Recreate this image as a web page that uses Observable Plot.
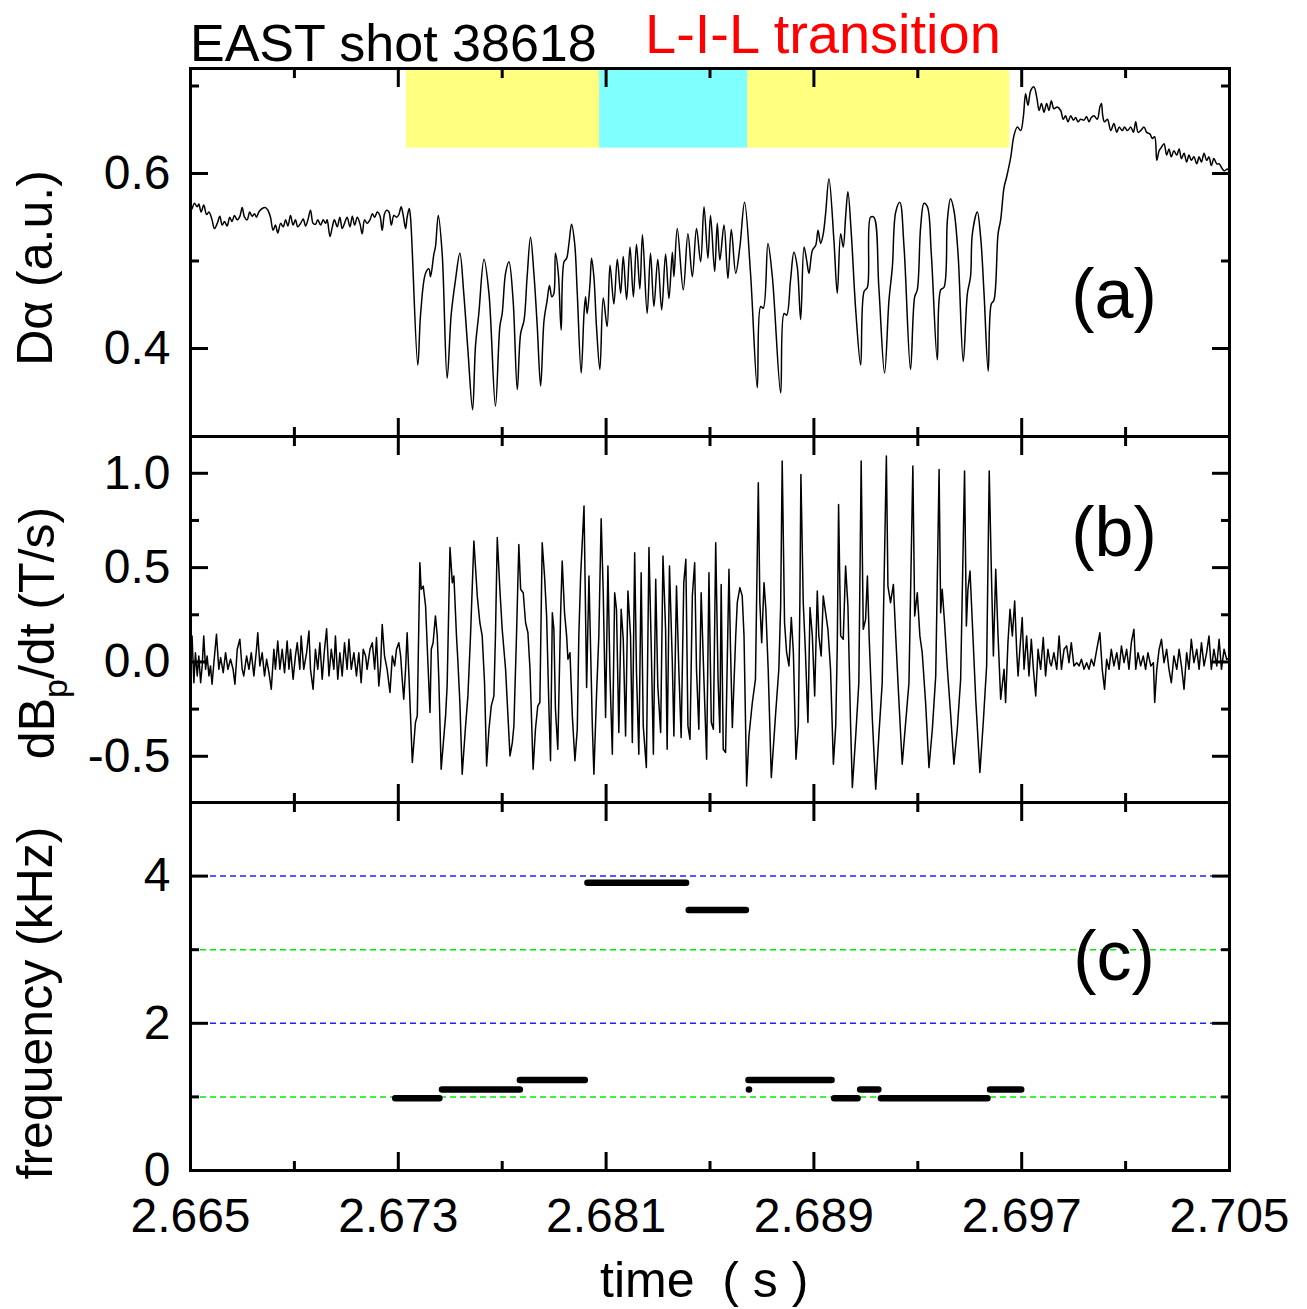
<!DOCTYPE html>
<html>
<head>
<meta charset="utf-8">
<script src="https://cdn.jsdelivr.net/npm/d3@7"></script>
<script src="https://cdn.jsdelivr.net/npm/@observablehq/plot@0.6"></script>
<style>
  html, body { margin: 0; padding: 0; background: #fff; }
  #wrap { position: relative; width: 1307px; height: 1309px; overflow: hidden; }
  #wrap > svg { position: absolute; left: 0; }
  .lbl { font-family: 'Liberation Sans', Arial, sans-serif; fill: #000; }
</style>
</head>
<body>
<div id="wrap"></div>
<script>
// ---------- data ----------
const T0 = 2.665; // s ; times below are in ms after T0

// (a) D-alpha signal
const daTimeMs = [0,0.06,0.15,0.26,0.32,0.41,0.51,0.62,0.71,0.83,0.92,1.03,1.13,1.22,1.31,1.41,1.51,1.60,1.69,1.80,1.90,1.99,2.08,2.18,2.28,2.37,2.46,2.54,2.63,2.76,2.89,2.98,3.08,3.18,3.27,3.36,3.47,3.57,3.66,3.75,3.85,3.95,4.04,4.13,4.24,4.34,4.43,4.52,4.62,4.72,4.81,4.90,5.01,5.11,5.20,5.26,5.37,5.46,5.54,5.65,5.75,5.84,5.93,6.03,6.14,6.23,6.32,6.42,6.52,6.61,6.70,6.80,6.91,7.00,7.09,7.19,7.29,7.38,7.47,7.55,7.64,7.73,7.83,7.93,8.02,8.11,8.19,8.28,8.34,8.42,8.47,
 8.75,8.86,9.05,9.18,9.24,9.37,9.43,9.54,9.69,9.88,10.04,10.20,10.37,10.52,10.68,10.86,10.97,11.10,11.30,11.49,11.74,11.91,12.00,12.13,12.26,12.42,12.58,12.71,12.84,12.96,13.09,13.22,13.35,13.48,13.61,13.73,13.82,13.91,13.99,14.05,14.16,14.27,14.38,14.48,14.57,14.67,14.79,14.89,15.04,15.15,15.21,15.27,15.38,15.44,15.53,15.63,15.76,
 15.89,16.04,16.15,16.30,16.43,16.56,16.66,16.79,16.92,17.05,17.17,17.30,17.40,17.58,17.71,17.84,17.99,18.14,18.29,18.42,18.55,18.61,18.74,18.97,19.15,19.32,19.48,19.64,19.77,19.92,20.02,20.18,20.28,20.38,20.54,20.69,20.82,20.99,21.15,21.33,21.56,21.82,21.95,22.05,22.23,22.40,22.72,22.85,22.95,23.10,23.23,23.36,23.49,23.62,23.72,23.81,23.94,24.07,24.16,24.26,24.36,24.45,24.58,24.77,24.90,25.03,25.13,25.22,25.31,25.44,25.61,25.80,25.93,26.06,26.18,26.31,26.50,26.72,26.89,27.02,27.15,27.31,27.47,27.72,27.88,27.98,28.11,28.24,28.37,28.52,28.75,28.88,29.01,29.14,29.26,29.39,29.55,29.75,29.91,30.03,30.10,30.29,30.42,30.55,30.71,30.83,30.93,31.09,31.19,
 31.32,31.42,31.58,31.70,31.83,31.96,32.06,32.15,32.24,32.35,32.47,32.58,32.67,32.76,32.86,32.96,33.05,33.14,33.24,33.37,33.50,33.60,33.69,33.78,33.89,33.99,34.08,34.17,34.27,34.40,34.50,34.59,34.68,34.78,34.91,35.01,35.07,35.12,35.19,35.30,35.43,35.55,35.66,35.75,35.87,35.96,36.07,36.20,36.30,36.39,36.48,36.58,36.71,36.81,36.94,37.03,37.12,37.20,37.29,37.38,37.48,37.58,37.67,37.76,37.86,37.97,38.06,38.15,38.25,38.35,38.44,38.53,38.63,38.74,38.83,38.92,39.02,39.12,39.21,39.30,39.40,39.51,39.60,39.69,39.79,39.92,40.0];
const daValue = [0.558,0.560,0.566,0.562,0.565,0.556,0.564,0.553,0.556,0.547,0.537,0.543,0.551,0.541,0.545,0.540,0.550,0.545,0.552,0.547,0.551,0.561,0.550,0.547,0.556,0.551,0.554,0.550,0.556,0.560,0.561,0.558,0.550,0.535,0.541,0.532,0.543,0.539,0.547,0.540,0.552,0.541,0.547,0.539,0.543,0.548,0.540,0.547,0.558,0.543,0.542,0.547,0.541,0.547,0.543,0.547,0.528,0.539,0.547,0.539,0.550,0.537,0.543,0.550,0.539,0.551,0.541,0.550,0.543,0.531,0.547,0.543,0.547,0.554,0.550,0.556,0.552,0.535,0.554,0.558,0.556,0.541,0.552,0.550,0.553,0.562,0.552,0.537,0.550,0.560,0.550,
 0.381,0.440,0.486,0.491,0.482,0.508,0.516,0.552,0.508,0.366,0.440,0.478,0.509,0.463,0.398,0.330,0.402,0.440,0.502,0.463,0.334,0.425,0.440,0.486,0.499,0.455,0.353,0.417,0.432,0.482,0.527,0.486,0.425,0.357,0.432,0.455,0.472,0.459,0.463,0.509,0.486,0.421,0.499,0.503,0.520,0.542,0.520,0.463,0.372,0.440,0.459,0.440,0.474,0.503,0.482,0.425,0.376,
 0.458,0.425,0.495,0.451,0.502,0.463,0.505,0.456,0.516,0.459,0.519,0.468,0.530,0.440,0.509,0.448,0.502,0.444,0.508,0.457,0.510,0.482,0.537,0.467,0.531,0.482,0.537,0.499,0.562,0.503,0.552,0.488,0.543,0.501,0.541,0.480,0.536,0.486,0.516,0.567,0.486,0.355,0.448,0.446,0.520,0.482,0.349,0.440,0.438,0.478,0.510,0.493,0.433,0.516,0.501,0.486,0.512,0.518,0.535,0.520,0.531,0.554,0.594,0.524,0.463,0.531,0.516,0.550,0.579,0.531,0.444,0.381,0.465,0.470,0.550,0.550,0.470,0.372,0.455,0.493,0.556,0.567,0.516,0.376,0.459,0.467,0.539,0.566,0.562,0.508,0.387,0.467,0.470,0.547,0.571,0.558,0.508,0.385,0.463,0.482,0.531,0.556,0.527,0.463,0.374,0.451,0.455,0.531,0.547,
 0.584,0.596,0.619,0.643,0.653,0.649,0.664,0.691,0.678,0.695,0.699,0.687,0.672,0.680,0.670,0.680,0.672,0.683,0.674,0.676,0.672,0.662,0.666,0.659,0.666,0.661,0.664,0.659,0.662,0.661,0.665,0.659,0.664,0.666,0.662,0.676,0.680,0.666,0.659,0.662,0.649,0.657,0.647,0.653,0.649,0.653,0.649,0.653,0.647,0.659,0.647,0.649,0.653,0.647,0.645,0.640,0.642,0.615,0.626,0.630,0.634,0.621,0.628,0.619,0.626,0.621,0.628,0.617,0.623,0.613,0.621,0.615,0.619,0.611,0.619,0.613,0.623,0.615,0.619,0.609,0.617,0.611,0.611,0.607,0.603,0.605,0.601];

// (b) dBp/dt signal
const bpTimeMs = [0,0.06,0.13,0.19,0.26,0.32,0.39,0.45,0.51,0.58,0.64,0.71,0.77,0.83,0.90,1.00,1.09,1.16,1.26,1.35,1.44,1.54,1.64,1.71,1.80,1.90,1.99,2.05,2.16,2.25,2.34,2.44,2.54,2.59,2.67,2.76,2.85,2.93,3.02,3.11,3.21,3.27,3.36,3.44,3.53,3.62,3.72,3.79,3.85,3.95,4.04,4.11,4.21,4.26,4.36,4.47,4.56,4.62,4.72,4.81,4.90,4.98,5.07,5.16,5.24,5.33,5.42,5.52,5.58,5.67,5.75,5.84,5.93,6.03,6.10,6.19,6.29,6.39,6.48,6.57,6.65,6.74,6.80,6.91,7.00,7.09,7.16,7.25,7.32,7.38,7.47,7.57,7.68,7.77,7.86,7.93,8.02,8.09,8.16,8.21,8.28,8.34,8.41,
 8.54,8.66,8.73,8.83,8.88,8.96,9.05,9.14,9.22,9.27,9.34,9.43,9.50,9.56,9.65,9.82,9.88,9.99,10.08,10.14,10.24,10.29,10.37,10.46,10.59,10.68,10.78,10.91,11.04,11.14,11.23,11.32,11.40,11.49,11.58,11.68,11.74,11.81,11.91,12.00,12.13,12.30,12.39,12.45,12.55,12.64,12.71,12.81,12.90,12.99,13.07,13.19,13.28,13.37,13.45,13.54,13.63,13.71,13.80,13.86,13.93,13.99,14.05,14.14,14.25,14.31,14.40,14.48,14.53,14.61,14.70,14.80,14.89,14.95,15.02,15.15,15.25,15.34,15.47,15.53,15.63,15.72,15.81,
 15.89,15.98,16.07,16.15,16.24,16.33,16.40,16.49,16.58,16.66,16.75,16.84,16.94,17.01,17.10,17.17,17.26,17.35,17.43,17.55,17.65,17.74,17.82,17.91,17.99,18.10,18.19,18.29,18.35,18.44,18.55,18.61,18.71,18.80,18.89,18.99,19.07,19.15,19.23,19.32,19.41,19.48,19.57,19.66,19.77,19.87,19.96,20.05,20.13,20.22,20.31,20.38,20.43,20.51,20.60,20.73,20.79,20.86,20.99,21.05,21.15,21.24,21.31,21.41,21.50,21.63,21.75,21.86,21.92,21.99,22.08,22.15,22.24,22.36,22.53,22.65,22.72,22.78,22.87,22.95,23.04,23.13,23.21,23.31,23.40,23.46,23.50,23.59,23.67,23.77,23.85,23.94,24.03,24.13,24.19,24.28,24.36,24.45,24.54,24.64,24.75,24.84,24.90,24.95,25.03,25.13,25.22,25.31,25.41,25.48,25.61,25.73,25.82,25.90,25.99,26.06,26.13,26.25,26.38,26.50,26.63,26.79,26.85,26.95,27.06,27.15,27.25,27.40,27.49,27.66,27.81,27.88,27.98,28.08,28.17,28.30,28.43,28.56,28.69,28.82,28.88,28.94,29.03,29.14,29.26,29.39,29.52,29.65,29.80,29.87,29.93,30.01,30.10,30.23,30.39,30.52,30.65,30.75,30.83,30.91,31.00,31.09,31.19,31.32,31.38,31.47,31.55,31.64,31.73,31.81,31.86,31.93,32.02,32.09,32.19,32.28,32.37,32.45,32.54,32.63,32.73,32.83,32.92,33.01,33.09,
 33.14,33.24,33.35,33.44,33.53,33.63,33.73,33.82,33.91,34.01,34.12,34.21,34.30,34.40,34.50,34.59,34.68,34.78,34.89,35.01,35.10,35.19,35.27,35.36,35.45,35.55,35.66,35.75,35.84,35.94,36.04,36.13,36.22,36.32,36.39,36.48,36.58,36.68,36.77,36.86,36.97,37.07,37.12,37.20,37.29,37.38,37.48,37.58,37.67,37.76,37.86,37.97,38.06,38.15,38.25,38.35,38.44,38.53,38.63,38.74,38.83,38.92,39.02,39.12,39.21,39.30,39.40,39.51,39.60,39.69,39.79,39.89,40.0];
const bpValue = [0.03,0.138,-0.110,0.049,-0.074,0.032,-0.110,-0.021,0.138,-0.039,0.032,-0.074,-0.021,-0.118,-0.004,0.147,-0.039,0.023,-0.057,0.049,-0.039,0.014,-0.039,-0.118,0.067,0.120,-0.039,-0.074,0.032,-0.039,0.049,-0.074,0.067,0.155,-0.021,0.049,-0.074,0.014,-0.057,-0.145,0.067,-0.039,0.111,-0.039,0.067,-0.057,0.111,-0.039,0.067,-0.092,0.032,0.102,-0.039,0.138,-0.039,0.049,0.164,-0.039,-0.145,0.067,-0.039,0.102,-0.092,0.067,0.176,-0.074,0.067,-0.039,0.138,-0.092,0.049,-0.074,0.102,-0.039,0.120,-0.039,0.049,-0.074,0.049,-0.110,0.067,0.032,-0.039,0.067,0.102,-0.039,0.129,-0.127,-0.021,0.199,0.032,-0.039,-0.162,0.032,-0.021,0.067,0.102,0.032,-0.110,-0.198,-0.039,0.155,-0.074,
 -0.533,-0.321,-0.286,0.526,0.385,0.402,0.297,-0.004,-0.268,0.067,0.102,0.244,0.138,-0.092,-0.569,-0.286,-0.127,0.606,0.420,0.456,0.138,0.014,-0.215,-0.595,-0.339,-0.180,0.138,0.641,0.350,0.208,0.138,-0.110,-0.551,-0.357,-0.233,-0.180,0.138,0.659,0.385,0.173,-0.039,-0.498,-0.427,-0.339,0.138,0.623,0.385,0.367,0.208,0.155,-0.039,-0.569,-0.357,-0.233,-0.215,0.632,0.456,0.244,-0.251,-0.524,0.261,0.173,-0.251,-0.463,0.261,0.535,0.261,0.138,0.014,0.049,-0.286,-0.524,-0.357,0.138,0.456,0.826,-0.136,0.456,-0.339,-0.595,-0.180,0.138,0.759,
 0.367,-0.295,0.508,-0.074,-0.489,0.367,0.279,-0.374,0.279,0.120,-0.392,0.376,0.138,-0.427,0.579,-0.057,-0.489,0.473,-0.339,-0.560,0.606,0.067,-0.489,0.438,-0.127,-0.374,0.561,0.173,-0.463,0.508,-0.004,-0.392,0.402,-0.039,-0.401,0.420,0.544,-0.339,-0.410,0.350,0.526,-0.039,-0.357,0.367,-0.110,-0.516,0.473,-0.321,-0.357,0.632,-0.092,-0.374,0.411,-0.463,-0.480,0.491,0.067,-0.348,0.138,0.314,0.394,0.350,0.138,-0.657,-0.392,-0.215,-0.092,0.950,0.314,0.102,0.420,0.279,-0.039,-0.613,-0.268,-0.039,0.297,1.065,0.208,0.049,-0.021,0.235,0.049,-0.516,-0.339,0.314,0.994,0.314,0.067,-0.321,0.288,0.138,-0.180,0.376,0.138,0.032,0.350,0.261,0.173,-0.039,-0.542,-0.339,0.085,0.835,0.138,0.120,0.508,0.297,-0.321,-0.666,-0.392,-0.110,1.065,0.173,0.226,0.456,0.120,-0.304,-0.675,-0.392,-0.110,1.091,0.402,0.314,0.411,0.138,-0.145,-0.542,-0.392,-0.110,1.038,0.244,0.367,0.138,0.049,-0.215,-0.560,-0.357,-0.074,1.020,0.261,0.385,0.208,-0.039,-0.268,-0.542,-0.357,-0.092,1.012,0.191,0.385,0.482,0.208,-0.198,-0.586,-0.321,-0.021,1.012,0.491,0.032,0.491,0.138,-0.198,-0.039,-0.215,0.102,0.279,0.138,0.323,0.049,-0.074,0.067,0.235,-0.039,0.138,-0.074,0.120,-0.039,-0.180,0.067,-0.039,0.129,-0.074,0.067,-0.004,
 -0.021,0.049,-0.039,0.138,-0.039,0.067,0.085,-0.004,0.102,-0.021,-0.004,-0.021,0.014,-0.039,-0.004,-0.039,0.014,-0.021,0.067,0.155,-0.039,-0.145,0.014,-0.039,0.067,-0.021,0.049,-0.039,0.085,-0.004,0.067,-0.039,0.102,0.173,-0.039,0.049,-0.021,0.032,-0.039,0.049,-0.021,-0.004,-0.215,-0.039,0.067,0.120,-0.004,0.067,-0.039,-0.110,0.032,-0.039,0.067,-0.021,-0.145,0.049,-0.039,0.120,-0.004,0.067,-0.039,0.102,-0.021,0.049,0.138,-0.039,0.067,-0.021,0.120,-0.039,0.067,0.014,0.02];

// (a) phase bars (L / I / L shading)
const phaseStart = [2.67332, 2.68075, 2.68645];
const phaseEnd   = [2.68075, 2.68645, 2.69654];
const phaseColor = ["#ffff80", "#80ffff", "#ffff80"];
const phaseBottom = 0.629;

// (c) frequency segments
const segStart = [2.6729, 2.6747, 2.6777, 2.6803, 2.6842, 2.6865, 2.6898, 2.6908, 2.6916, 2.6958];
const segEnd   = [2.6746, 2.6777, 2.6802, 2.6841, 2.6864, 2.6897, 2.6907, 2.6915, 2.6957, 2.6970];
const segFreq  = [0.98, 1.10, 1.23, 3.91, 3.54, 1.23, 0.98, 1.10, 0.98, 1.10];
const dotTime = [2.6865];
const dotFreq = [1.10];
const blueLevels = [2, 4];
const greenLevels = [1, 3];

// ticks
const xMajor = [2.665, 2.673, 2.681, 2.689, 2.697, 2.705];
const xMinor = [2.669, 2.677, 2.685, 2.693, 2.701];
const aMajor = [0.4, 0.6], aMinor = [0.5, 0.7];
const bMajor = [-0.5, 0.0, 0.5, 1.0], bMinor = [-0.25, 0.25, 0.75];
const cMajor = [0, 2, 4], cMinor = [1, 3];

// ---------- build ----------
const daData = daTimeMs.map((t, i) => ({t: T0 + t / 1000, v: daValue[i]}));
const bpData = bpTimeMs.map((t, i) => ({t: T0 + t / 1000, v: bpValue[i]}));
const phases = phaseStart.map((s, i) => ({s, e: phaseEnd[i], c: phaseColor[i]}));
const segs = segStart.map((s, i) => ({s, e: segEnd[i], f: segFreq[i]}));
const dots = dotTime.map((t, i) => ({t, f: dotFreq[i]}));

const FONT = "'Liberation Sans', Arial, sans-serif";
const base = {
  width: 1307, marginLeft: 190, marginRight: 78,
  x: {domain: [2.665, 2.705]},
  color: {type: "identity"},
  style: {fontFamily: FONT, fontSize: "48px", background: "transparent", overflow: "visible", color: "black"}
};

function tickMarks(xMaj, xMin, yMaj, yMin) {
  const blank = () => "";
  const o = (anchor, size) => ({anchor, tickSize: size, tickFormat: blank, strokeWidth: 3, label: null});
  return [
    Plot.axisX(xMaj, o("bottom", -18)), Plot.axisX(xMin, o("bottom", -9)),
    Plot.axisX(xMaj, o("top", -18)), Plot.axisX(xMin, o("top", -9)),
    Plot.axisY(yMaj, o("left", -18)), Plot.axisY(yMin, o("left", -9)),
    Plot.axisY(yMaj, o("right", -18)), Plot.axisY(yMin, o("right", -9))
  ];
}
const yLabels = (vals, fmt) => Plot.axisY(vals, {anchor: "left", tickSize: 0, tickPadding: 20, tickFormat: fmt, fontSize: 48, label: null});

const pa = Plot.plot({
  ...base, height: 438, marginTop: 68, marginBottom: 2,
  y: {domain: [0.2994, 0.72]},
  marks: [
    Plot.rect(phases, {x1: "s", x2: "e", y1: phaseBottom, y2: 0.72, fill: "c"}),
    Plot.line(daData, {x: "t", y: "v", stroke: "black", strokeWidth: 1.5, curve: "catmull-rom", clip: true}),
    ...tickMarks(xMajor, xMinor, aMajor, aMinor),
    yLabels(aMajor, d => d.toFixed(1)),
    Plot.frame({stroke: "black", strokeWidth: 3})
  ]
});
pa.style.top = "0px";

const pb = Plot.plot({
  ...base, height: 370, marginTop: 2, marginBottom: 2,
  y: {domain: [-0.745, 1.195]},
  marks: [
    Plot.line(bpData, {x: "t", y: "v", stroke: "black", strokeWidth: 1.5, clip: true}),
    ...tickMarks(xMajor, xMinor, bMajor, bMinor),
    yLabels(bMajor, d => d.toFixed(1)),
    Plot.frame({stroke: "black", strokeWidth: 3})
  ]
});
pb.style.top = "434px";

const pc = Plot.plot({
  ...base, height: 509, marginTop: 2, marginBottom: 139,
  y: {domain: [0, 5]},
  marks: [
    Plot.ruleY(blueLevels, {stroke: "#2020ff", strokeWidth: 1.5, strokeDasharray: "6,4"}),
    Plot.ruleY(greenLevels, {stroke: "#00ee00", strokeWidth: 1.5, strokeDasharray: "6,4"}),
    Plot.ruleY(segs, {y: "f", x1: "s", x2: "e", stroke: "black", strokeWidth: 6.5, strokeLinecap: "round"}),
    Plot.dot(dots, {x: "t", y: "f", r: 3.3, fill: "black"}),
    ...tickMarks(xMajor, xMinor, cMajor, cMinor),
    yLabels(cMajor, d => String(d)),
    Plot.axisX(xMajor, {anchor: "bottom", tickSize: 0, tickPadding: 27, tickFormat: d3.format(".3f"), fontSize: 48, label: null}),
    Plot.frame({stroke: "black", strokeWidth: 3})
  ]
});
pc.style.top = "800px";

const wrap = document.getElementById("wrap");
wrap.append(pa, pb, pc);

// overlay text
const ns = "http://www.w3.org/2000/svg";
const ov = document.createElementNS(ns, "svg");
ov.setAttribute("width", 1307); ov.setAttribute("height", 1309);
ov.style.top = "0px"; ov.style.pointerEvents = "none";
ov.innerHTML = `
  <text class="lbl" x="190" y="61" font-size="52">EAST shot 38618</text>
  <text class="lbl" x="645" y="53" font-size="56" style="fill:#ff0000">L-I-L transition</text>
  <text class="lbl" x="1114" y="318" font-size="70" text-anchor="middle">(a)</text>
  <text class="lbl" x="1114" y="556" font-size="70" text-anchor="middle">(b)</text>
  <text class="lbl" x="1114" y="980" font-size="70" text-anchor="middle">(c)</text>
  <text class="lbl" font-size="50" text-anchor="middle" transform="translate(52,268) rotate(-90)">Dα (a.u.)</text>
  <text class="lbl" font-size="50" text-anchor="middle" transform="translate(54,633) rotate(-90)">dB<tspan font-size="34" dy="13">p</tspan><tspan dy="-13">/dt (T/s)</tspan></text>
  <text class="lbl" font-size="50" text-anchor="middle" transform="translate(52,1003) rotate(-90)">frequency (kHz)</text>
  <text class="lbl" x="600" y="1297" font-size="50" style="white-space:pre">time  ( s )</text>
`;
wrap.append(ov);
</script>
</body>
</html>
